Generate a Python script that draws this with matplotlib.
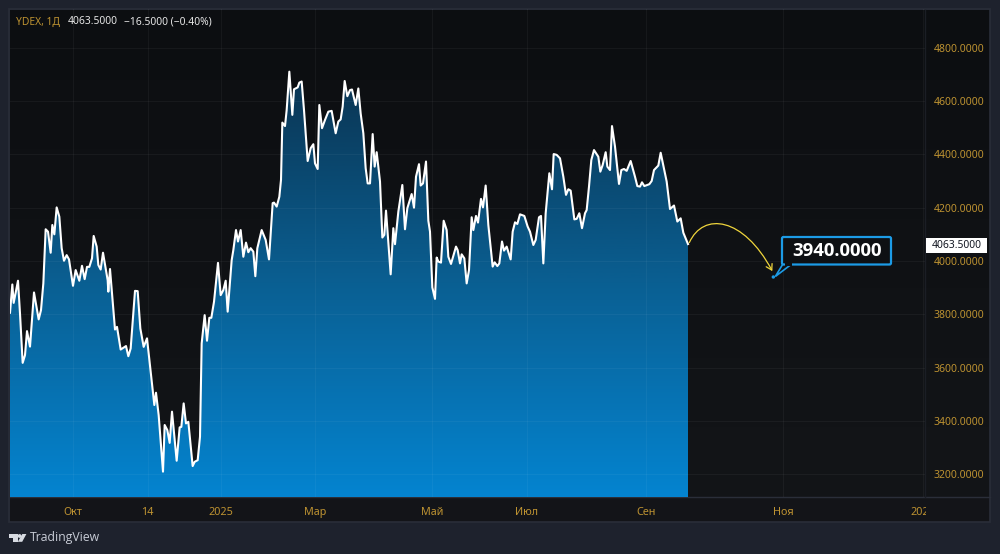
import numpy as np
import matplotlib
matplotlib.use("Agg")
import matplotlib.pyplot as plt
from matplotlib.path import Path
from matplotlib.patches import FancyArrowPatch, FancyBboxPatch, Polygon, Circle, Rectangle, PathPatch
from matplotlib.colors import LinearSegmentedColormap
from matplotlib.transforms import Bbox

# time position (chart-time units, 3 units = 1 screen step), close price
times_2024 = [30,37,41,54,60,68,75,81,90,102,116,123,130,137,144,152,157,163,170,178,185,192,200,207,219,227,238,246,254,261,268,276,281,290,295,302,309,323,325,330,345,351,362,367,378,385,392,405,413,421,431,441,463,468,476,489,494,502,509,516,530,539,544,551,558,565,578,584,593,600,605]
prices_2024 = [3806,3912,3843,3926,3803,3618,3647,3737,3679,3882,3781,3816,3916,4119,4110,4031,4135,4100,4201,4166,4048,4001,4022,4006,3907,3966,3926,3982,3932,3978,3978,4010,4094,4054,3985,3968,4031,3928,3885,3970,3743,3753,3668,3672,3681,3643,3672,3888,3887,3747,3678,3710,3460,3506,3422,3210,3385,3366,3318,3435,3251,3376,3378,3466,3391,3397,3231,3247,3253,3341,3691]
times_q1 = [614,621,628,634,642,654,662,670,677,683,695,700,708,714,722,730,738,745,752,760,766,772,785,797,807,818,822,830,838,843,847,855,860,868,877,882,893,898,905,912,923,932,940,945,953,958,966,975,985,995,1007,1015,1022,1028,1034,1042,1050,1056,1067,1075,1082]
prices_q1 = [3797,3701,3787,3787,3847,3993,3872,3891,3926,3810,4003,4041,4116,4073,4116,4016,4069,4033,4048,4035,3943,4048,4116,4079,4006,4217,4219,4204,4241,4304,4519,4506,4566,4710,4548,4644,4651,4669,4673,4566,4375,4423,4438,4366,4345,4585,4498,4529,4560,4563,4479,4523,4531,4579,4675,4618,4641,4643,4585,4647,4553]
offsets_rest = [40,47,53,60,68,74,80,90,97,103,108,122,130,135,145,157,165,172,185,192,198,207,212,219,228,235,240,247,255,260,265,273,281,290,295,303,318,323,330,335,343,350,357,365,370,378,384,393,399,407,415,428,434,442,448,456,462,470,482,488,495,502,510,523,533,540,550,557,567,573,580,587,598,606,611,620,630,640,648,655,662,673,680,688,696,705,710,717,724,732,745,751,758,767,772,780,786,795,807,814,822,830,842,855,862,870,876,883,898,905,912,925,932,950,960,972,982,992,1000,1014]
prices_rest = [4479,4348,4291,4291,4476,4354,4408,4298,4088,4098,4189,3950,4123,4063,4185,4285,4119,4198,4251,4200,4316,4363,4283,4291,4373,4151,4110,3901,3858,4013,3998,3994,4151,4116,4016,3989,4054,4041,3991,4025,4010,3916,3966,4164,4116,4169,4144,4233,4201,4283,4135,3979,3995,3981,3991,4073,4039,4054,4006,4110,4145,4139,4175,4169,4129,4110,4060,4079,4164,4169,3991,4179,4329,4269,4401,4398,4385,4316,4248,4269,4264,4156,4158,4179,4123,4179,4191,4279,4379,4416,4391,4335,4360,4408,4354,4341,4506,4429,4289,4341,4345,4338,4375,4316,4281,4279,4295,4281,4288,4300,4341,4358,4406,4298,4195,4208,4148,4160,4106,4063.5]

y_ticks = [3200,3400,3600,3800,4000,4200,4400,4600,4800]
x_ticks = [220,443,664,946,1296,1581,1938,2349,2769]
x_labels = ["Окт","14","2025","Мар","Май","Июл","Сен","Ноя","2026"]
last_price = 4063.5
target_price = 3940.0

t = np.array(times_2024 + times_q1 + [1050 + o for o in offsets_rest], float)
p = np.array(prices_2024 + prices_q1 + prices_rest, float)

W, H = 1000, 554
plt.rcParams['font.family'] = ['Noto Sans', 'DejaVu Sans']
GOLD = '#bd9231'
fig = plt.figure(figsize=(W/100, H/100), dpi=100, facecolor='#1e222d')

# page-level furniture in screen steps
deco = fig.add_axes([0, 0, 1, 1], zorder=0)
deco.set_xlim(0, W); deco.set_ylim(H, 0); deco.axis('off')
bg = LinearSegmentedColormap.from_list('bg', ['#0c0e11', '#131518'])
deco.imshow(np.linspace(0, 1, 256)[:, None], extent=(10, 990, 497, 10), cmap=bg, aspect='auto', zorder=0)
deco.add_patch(Rectangle((10, 497), 980, 25, fc='#131418', ec='none', zorder=1))
deco.add_patch(Rectangle((9, 9), 981, 513, fc='none', ec='#2a2e39', lw=1.2, zorder=2))
deco.plot([10, 990], [497, 497], color='#2a2e39', lw=1, zorder=2)
deco.plot([925, 925], [10, 497], color='#1b1e25', lw=1, zorder=2)
deco.set_xlim(0, W); deco.set_ylim(H, 0)

deco.text(16, 22, "YDEX, 1Д", color=GOLD, fontsize=7.4, va='center')
deco.text(68, 22, "4063.5000", color='#e6e6e6', fontsize=7.4, va='center')
deco.text(124, 22, "−16.5000 (−0.40%)", color='#e6e6e6', fontsize=7.4, va='center')

# logo and name
LOGO = '#d8dbe2'
deco.add_patch(Polygon([(9, 534), (17.5, 534), (17.5, 541.8), (13.2, 541.8), (13.2, 537.6), (9, 537.6)], fc=LOGO, ec='none'))
deco.add_patch(Circle((19.6, 536), 1.9, fc=LOGO, ec='none'))
deco.add_patch(Polygon([(22.3, 534), (26.4, 534), (22.2, 541.8), (17.8, 541.8)], fc=LOGO, ec='none'))
deco.text(30, 538, "TradingView", color='#c8ccd6', fontsize=8.8, va='center', family=['Open Sans', 'DejaVu Sans'])

# chart
ax = fig.add_axes([10/W, 1-497/H, 915/W, 488/H], zorder=1)
ax.patch.set_alpha(0)
ax.set_xlim(30, 2775)
ax.set_ylim(3115, 4945)
for s in ax.spines.values():
    s.set_visible(False)

ax.set_yticks(y_ticks)
ax.set_yticklabels([f"{v:.4f}" for v in y_ticks])
ax.yaxis.tick_right()
ax.set_xticks(x_ticks)
ax.set_xticklabels(x_labels)
ax.tick_params(axis='y', length=0, pad=6, labelsize=7.5, labelcolor=GOLD)
ax.tick_params(axis='x', length=0, pad=7, labelsize=7.8, labelcolor=GOLD)
for lb in ax.get_xticklabels():
    if lb.get_text() == "2025":
        lb.set_fontweight('bold')
    if lb.get_text() == "2026":
        lb.set_clip_on(True)
        lb.set_clip_box(Bbox([[0, 0], [926, H]]))
ax.grid(True, color='#ffffff', alpha=0.045, lw=0.9, zorder=3)
ax.set_axisbelow(False)

grad = LinearSegmentedColormap.from_list('fill', ['#0a3350', '#0a5f92', '#0484d0'])
im = ax.imshow(np.linspace(0, 1, 256)[:, None], extent=(30, 2775, 3115, 4720), cmap=grad,
               aspect='auto', zorder=1, origin='upper')
poly = ax.fill_between(t, 3115, p, color='none', lw=0)
clip_path = poly.get_paths()[0]
im.set_clip_path(PathPatch(clip_path, transform=ax.transData))
ax.set_xlim(30, 2775); ax.set_ylim(3115, 4945)
ax.plot(t, p, color='white', lw=1.5, zorder=4)

# forecast arrow
arc = Path([(2068, 4069), (2110, 4185), (2230, 4165), (2317, 3962)],
           [Path.MOVETO, Path.CURVE4, Path.CURVE4, Path.CURVE4])
ax.add_patch(FancyArrowPatch(path=arc, arrowstyle='->,head_length=4,head_width=2.4',
                             color='#efd53c', lw=0.9, zorder=5, shrinkA=0, shrinkB=0))

# overlay for callouts
top = fig.add_axes([0, 0, 1, 1], zorder=3)
top.set_xlim(0, W); top.set_ylim(H, 0); top.axis('off')
BLUE = '#1c9be6'
tx, ty = ax.transData.transform((2320, target_price))
dot_x, dot_y = top.transData.inverted().transform((tx, ty))
top.add_patch(Polygon([(783.5, 263), (793, 263), (dot_x + 2, dot_y - 0.5)], fc='#0e1013', ec=BLUE, lw=1.2, zorder=2))
top.add_patch(FancyBboxPatch((782, 237), 109, 27.5, boxstyle='round,pad=0,rounding_size=1.5',
                             fc='#0e1013', ec=BLUE, lw=1.6, zorder=3))
top.add_patch(Rectangle((784.5, 262), 7.2, 3.5, fc='#0e1013', ec='none', zorder=4))
top.add_patch(Circle((dot_x, dot_y), 1.7, fc=BLUE, ec='none', zorder=5))
top.text(837, 250.5, f"{target_price:.4f}", color='white', fontsize=13.3, fontweight='bold',
         ha='center', va='center', zorder=6, family=['Open Sans', 'DejaVu Sans'])
top.add_patch(Rectangle((926, 237.5), 61, 15.5, fc='white', ec='none', zorder=3))
top.text(956.5, 245.3, f"{last_price:.4f}", color='#131722', fontsize=7.4, ha='center', va='center', zorder=4)

fig.savefig("out.png", dpi=100, facecolor=fig.get_facecolor())
